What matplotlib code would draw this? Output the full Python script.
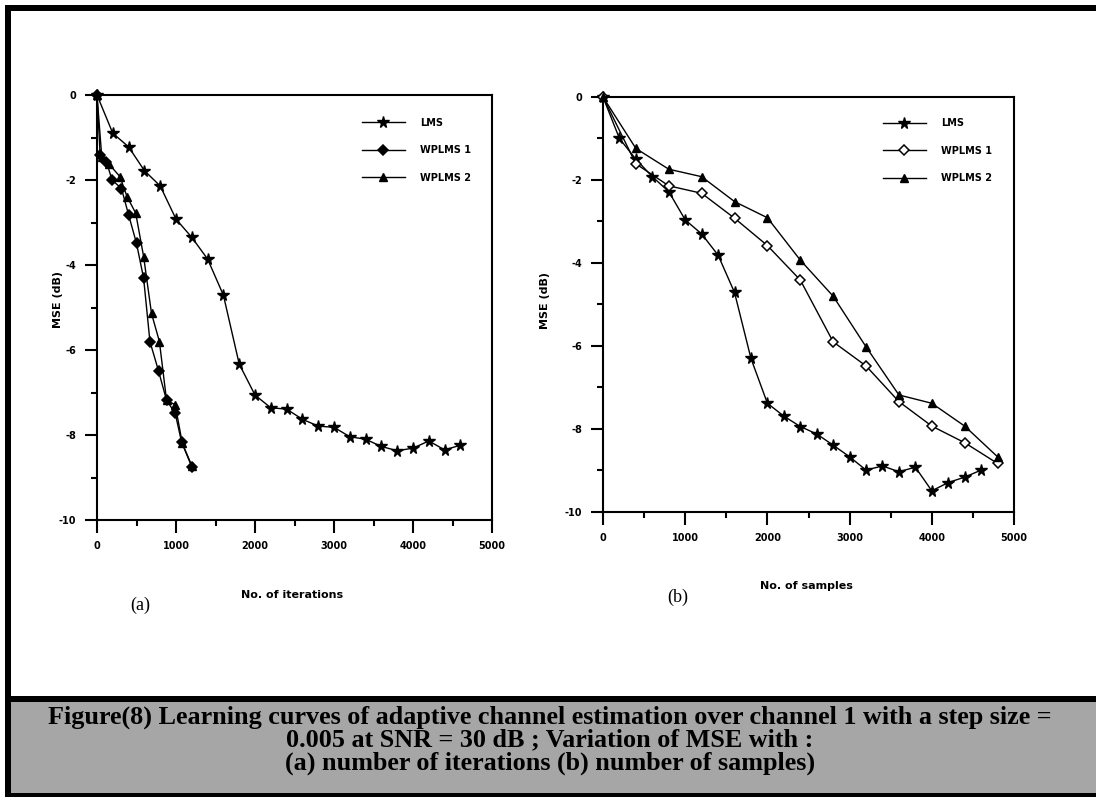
import numpy as np
import matplotlib.pyplot as plt
from matplotlib.patches import Rectangle
from matplotlib.ticker import MultipleLocator

plt.rcParams['axes.unicode_minus'] = False

# datos
# (a) MSE vs numero de iteraciones
lms_a_x = [0, 200, 400, 600, 800, 1000, 1200, 1400, 1600, 1800, 2000, 2200,
           2400, 2600, 2800, 3000, 3200, 3400, 3600, 3800, 4000, 4200, 4400, 4600]
lms_a_y = [0, -0.9, -1.22, -1.78, -2.14, -2.92, -3.35, -3.86, -4.71, -6.33, -7.06, -7.36,
           -7.39, -7.63, -7.79, -7.82, -8.04, -8.10, -8.27, -8.37, -8.31, -8.14, -8.35, -8.24]
wp1_a_x = [0, 40, 120, 190, 310, 400, 500, 590, 670, 780, 880, 990, 1070, 1200]
wp1_a_y = [0, -1.41, -1.57, -2.0, -2.2, -2.82, -3.49, -4.31, -5.8, -6.5, -7.18, -7.49, -8.16, -8.75]
wp2_a_x = [0, 60, 150, 290, 380, 490, 590, 690, 790, 880, 990, 1080, 1200]
wp2_a_y = [0, -1.45, -1.62, -1.92, -2.39, -2.78, -3.8, -5.14, -5.8, -7.18, -7.29, -8.2, -8.72]

# (b) MSE vs numero de muestras
lms_b_x = [0, 200, 400, 600, 800, 1000, 1200, 1400, 1600, 1800, 2000, 2200,
           2400, 2600, 2800, 3000, 3200, 3400, 3600, 3800, 4000, 4200, 4400, 4600]
lms_b_y = [0, -1.0, -1.5, -1.92, -2.28, -2.96, -3.30, -3.81, -4.71, -6.3, -7.38, -7.69,
           -7.94, -8.12, -8.39, -8.67, -8.99, -8.89, -9.03, -8.92, -9.49, -9.29, -9.16, -8.99]
wp_b_x = [0, 400, 800, 1200, 1600, 2000, 2400, 2800, 3200, 3600, 4000, 4400, 4800]
wp1_b_y = [0, -1.61, -2.14, -2.32, -2.92, -3.58, -4.41, -5.90, -6.48, -7.34, -7.93, -8.33, -8.83]
wp2_b_y = [0, -1.24, -1.74, -1.92, -2.52, -2.91, -3.93, -4.80, -6.02, -7.18, -7.38, -7.93, -8.67]

labels = ['LMS', 'WPLMS 1', 'WPLMS 2']
caption = ("Figure(8) Learning curves of adaptive channel estimation over channel 1 with a step size =\n"
           "0.005 at SNR = 30 dB ; Variation of MSE with :\n"
           "(a) number of iterations (b) number of samples)")

W, H = 1096, 797
fig = plt.figure(figsize=(W / 100, H / 100), dpi=100)


def px(x0, y0, x1, y1):
    # caja en pixeles -> fracciones de figura
    return [x0 / W, 1 - y1 / H, (x1 - x0) / W, (y1 - y0) / H]


def style_axes(ax):
    ax.set_xlim(0, 5000)
    ax.set_ylim(-10, 0)
    ax.xaxis.set_major_locator(MultipleLocator(1000))
    ax.xaxis.set_minor_locator(MultipleLocator(500))
    ax.yaxis.set_major_locator(MultipleLocator(2))
    ax.yaxis.set_minor_locator(MultipleLocator(1))
    for s in ax.spines.values():
        s.set_linewidth(1.5)
    ax.tick_params(which='major', direction='out', length=9, width=1.5,
                   labelsize=7, pad=6, top=False, right=False)
    ax.tick_params(which='minor', direction='out', length=4.5, width=1.5,
                   top=False, right=False)
    for t in ax.get_xticklabels() + ax.get_yticklabels():
        t.set_fontweight('bold')


def draw(ax, series, diamond_face):
    (lx, ly), (d_x, d_y), (t_x, t_y) = series
    ax.plot(lx, ly, color='black', lw=1, marker='*', ms=8.5, label=labels[0], clip_on=False)
    ax.plot(d_x, d_y, color='black', lw=1, marker='D', ms=5, mfc=diamond_face,
            mec='black', mew=1.1, label=labels[1], clip_on=False)
    ax.plot(t_x, t_y, color='black', lw=1, marker='^', ms=6, label=labels[2], clip_on=False)


leg_kw = dict(frameon=False, prop={'weight': 'bold', 'size': 7}, handlelength=4.4,
              handletextpad=1.6, labelspacing=1.8, borderpad=0, borderaxespad=0)

ax1 = fig.add_axes(px(97, 95, 492, 520))
draw(ax1, [(lms_a_x, lms_a_y), (wp1_a_x, wp1_a_y), (wp2_a_x, wp2_a_y)], 'black')
style_axes(ax1)
ax1.set_xlabel('No. of iterations', fontsize=8, fontweight='bold')
ax1.xaxis.set_label_coords(0.494, -0.165)
ax1.set_ylabel('MSE (dB)', fontsize=8, fontweight='bold')
ax1.yaxis.set_label_coords(-0.085, 0.52)
ax1.legend(loc='upper left', bbox_to_anchor=(0.671, 0.947), **leg_kw)

ax2 = fig.add_axes(px(603, 97, 1014, 512))
draw(ax2, [(lms_b_x, lms_b_y), (wp_b_x, wp1_b_y), (wp_b_x, wp2_b_y)], 'white')
style_axes(ax2)
ax2.set_xlabel('No. of samples', fontsize=8, fontweight='bold')
ax2.xaxis.set_label_coords(0.494, -0.166)
ax2.set_ylabel('MSE (dB)', fontsize=8, fontweight='bold')
ax2.yaxis.set_label_coords(-0.13, 0.51)
ax2.legend(loc='upper left', bbox_to_anchor=(0.681, 0.949), **leg_kw)

fig.text(140 / W, 1 - 605 / H, '(a)', fontsize=13, family='Liberation Serif', ha='center', va='center')
fig.text(678 / W, 1 - 597 / H, '(b)', fontsize=13, family='Liberation Serif', ha='center', va='center')

# marco y pie de figura
fig.add_artist(Rectangle((5 / W, 0), 6 / W, 1 - 5 / H, transform=fig.transFigure,
                         color='black', lw=0))
fig.add_artist(Rectangle((5 / W, 1 - 11 / H), 1, 6 / H, transform=fig.transFigure,
                         color='black', lw=0))
fig.add_artist(Rectangle((11 / W, 4 / H), 1, (797 - 702 - 4) / H, transform=fig.transFigure,
                         color='#a6a6a6', lw=0))
fig.add_artist(Rectangle((5 / W, 1 - 702 / H), 1, 6 / H, transform=fig.transFigure,
                         color='black', lw=0))
fig.add_artist(Rectangle((5 / W, 0), 1, 4 / H, transform=fig.transFigure,
                         color='black', lw=0))
fig.text(550 / W, 1 - 740 / H, caption, fontsize=18.8, fontweight='bold', family='Liberation Serif',
         ha='center', va='center', linespacing=0.98)

fig.savefig('out.png', dpi=100)
